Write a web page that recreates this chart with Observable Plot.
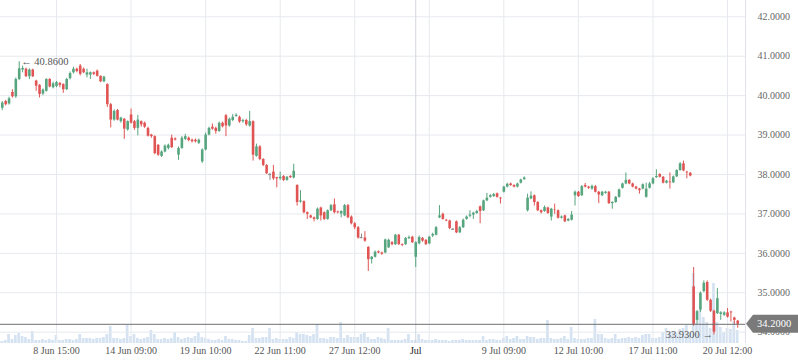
<!DOCTYPE html>
<html><head><meta charset="utf-8">
<script src="https://cdn.jsdelivr.net/npm/d3@7"></script>
<script src="https://cdn.jsdelivr.net/npm/@observablehq/plot@0.6"></script>
<style>
html,body{margin:0;padding:0;background:#fff;}
#wrap{position:relative;width:798px;height:363px;overflow:hidden;background:#fff;}
#wrap svg{position:absolute;left:0;top:0;}
</style></head><body><div id="wrap"></div>
<script>
const open = [
39.68,39.85,39.79,40.08,39.97,40.41,40.65,40.67,40.48,40.65,
40.37,40.26,40.04,40.11,40.41,40.20,40.23,40.31,40.28,40.15,
40.43,40.58,40.67,40.75,40.67,40.52,40.52,40.58,40.62,40.49,
40.35,40.28,39.77,39.38,39.62,39.34,39.40,39.13,39.51,39.34,
39.17,39.34,39.30,39.17,39.00,38.96,38.74,38.46,38.57,38.66,
38.92,38.90,38.49,38.66,38.89,38.92,38.87,38.87,38.79,38.32,
38.62,39.00,39.20,39.17,39.09,39.30,39.49,39.23,39.37,39.47,
39.45,39.34,39.37,39.23,39.34,38.46,38.70,38.38,38.23,38.00,
38.06,37.92,37.89,37.95,37.85,37.95,37.91,37.72,37.30,37.31,
37.03,36.95,36.90,36.86,37.15,37.03,36.86,37.08,37.23,37.05,
37.00,36.95,37.21,36.92,36.75,36.65,36.40,36.39,36.15,35.84,
35.90,36.04,36.01,36.01,36.14,36.27,36.22,36.46,36.22,36.22,
36.37,36.41,35.90,36.24,36.38,36.33,36.24,36.44,36.46,36.90,
36.99,36.84,36.82,36.61,36.80,36.52,36.65,36.86,36.94,36.97,
37.01,37.18,37.08,37.33,37.42,37.44,37.51,37.40,37.55,37.68,
37.76,37.72,37.68,37.78,37.87,37.08,37.38,37.46,37.29,37.08,
37.06,37.15,36.92,37.10,37.08,36.89,36.95,36.82,36.84,37.46,
37.55,37.46,37.72,37.68,37.63,37.69,37.55,37.46,37.52,37.55,
37.26,37.29,37.42,37.65,37.76,37.85,37.76,37.68,37.63,37.63,
37.42,37.65,37.76,37.92,38.00,37.93,37.78,37.81,37.79,37.94,
38.10,38.27,38.06,38.03,35.15,34.30,34.56,35.03,35.26,34.81,
34.53,34.47,34.45,34.43,34.49,34.51,34.36,34.28];
const high = [
39.85,39.88,39.96,40.15,40.45,40.86,40.75,40.70,40.68,40.67,
40.39,40.28,40.17,40.43,40.43,40.34,40.36,40.33,40.30,40.44,
40.60,40.72,40.70,40.79,40.70,40.67,40.60,40.60,40.65,40.50,
40.49,40.30,39.80,39.64,39.65,39.45,39.42,39.36,39.66,39.37,
39.50,39.36,39.33,39.20,39.02,38.98,38.76,38.60,38.75,38.77,
39.00,38.93,38.70,38.96,39.02,38.95,38.90,38.90,38.90,38.65,
39.05,39.20,39.28,39.20,39.33,39.33,39.52,39.43,39.52,39.54,
39.48,39.40,39.40,39.60,39.36,38.77,38.73,38.40,38.25,38.03,
38.23,37.93,38.06,37.97,37.95,37.97,38.26,37.74,37.59,37.33,
37.05,36.97,36.92,37.15,37.17,37.05,37.10,37.24,37.38,37.07,
37.08,37.24,37.24,36.95,36.78,36.68,36.49,36.55,36.17,35.92,
36.06,36.06,36.03,36.36,36.36,36.30,36.48,36.48,36.24,36.40,
36.44,36.43,36.29,36.44,36.40,36.35,36.43,36.51,36.68,37.21,
37.02,36.86,36.84,36.63,36.82,36.68,36.87,36.95,37.08,37.04,
37.09,37.20,37.35,37.52,37.49,37.52,37.53,37.42,37.70,37.78,
37.78,37.74,37.78,37.88,37.94,37.50,37.56,37.48,37.31,37.10,
37.20,37.17,37.14,37.25,37.10,36.95,36.97,36.88,37.06,37.58,
37.57,37.72,37.77,37.70,37.73,37.72,37.57,37.57,37.57,37.57,
37.31,37.44,37.63,37.78,38.04,37.87,37.78,37.70,37.65,37.76,
37.78,37.80,37.92,38.12,38.02,37.95,37.85,38.04,37.96,38.12,
38.30,38.34,38.08,38.05,35.64,34.55,35.02,35.30,35.30,34.84,
34.56,35.11,34.52,34.52,34.60,34.53,34.38,34.30];
const low = [
39.62,39.74,39.76,39.94,39.93,40.38,40.58,40.46,40.41,40.46,
40.11,39.94,40.00,40.09,40.20,40.17,40.20,40.20,40.06,40.13,
40.40,40.55,40.58,40.50,40.56,40.45,40.41,40.51,40.47,40.33,
40.33,39.70,39.18,39.35,39.36,39.30,38.89,39.10,39.28,39.12,
38.98,39.20,39.17,38.95,38.92,38.50,38.46,38.43,38.55,38.62,
38.66,38.85,38.36,38.64,38.86,38.83,38.80,38.80,38.76,38.28,
38.60,38.98,39.12,39.02,39.07,39.18,38.96,39.20,39.34,39.45,
39.30,39.30,39.22,39.20,38.34,38.44,38.35,38.20,38.00,37.85,
37.85,37.66,37.85,37.82,37.83,37.90,37.89,37.20,37.27,37.00,
36.86,36.88,36.80,36.84,36.82,36.83,36.84,37.06,37.00,37.00,
36.90,36.93,36.88,36.72,36.60,36.36,36.37,36.28,35.54,35.73,
35.88,35.99,35.95,35.99,36.12,36.19,36.20,36.20,36.17,36.20,
36.35,36.25,35.64,36.22,36.28,36.20,36.22,36.40,36.44,36.88,
36.84,36.80,36.60,36.59,36.50,36.50,36.63,36.84,36.90,36.86,
36.99,36.75,37.06,37.31,37.40,37.42,37.40,37.25,37.53,37.66,
37.70,37.66,37.66,37.76,37.85,37.05,37.36,37.20,37.06,37.00,
37.04,36.99,36.82,36.99,36.87,36.87,36.78,36.80,36.82,37.20,
37.42,37.44,37.66,37.62,37.60,37.53,37.26,37.44,37.50,37.24,
37.12,37.27,37.40,37.63,37.74,37.74,37.66,37.61,37.50,37.61,
37.40,37.63,37.74,37.90,37.91,37.76,37.76,37.63,37.77,37.92,
38.08,38.07,37.89,37.94,34.15,34.20,34.50,35.00,34.78,34.50,
33.93,34.45,34.30,34.40,34.36,34.26,34.19,34.10];
const close = [
39.81,39.77,39.92,39.97,40.41,40.68,40.69,40.48,40.65,40.48,
40.24,40.03,40.14,40.41,40.22,40.30,40.33,40.26,40.15,40.41,
40.56,40.67,40.61,40.54,40.58,40.58,40.58,40.54,40.49,40.35,
40.47,39.77,39.38,39.60,39.38,39.43,39.15,39.34,39.30,39.17,
39.38,39.26,39.20,38.97,38.96,38.53,38.49,38.57,38.72,38.74,
38.68,38.87,38.66,38.92,38.96,38.86,38.83,38.83,38.87,38.62,
39.00,39.17,39.15,39.09,39.30,39.21,39.23,39.40,39.45,39.50,
39.33,39.37,39.26,39.34,38.49,38.70,38.38,38.23,38.02,38.00,
37.89,37.89,37.93,37.85,37.93,37.92,38.08,37.29,37.33,37.03,
36.99,36.90,36.86,37.12,36.95,36.86,37.08,37.21,37.03,37.03,
37.06,37.21,36.90,36.75,36.65,36.39,36.40,36.31,35.84,35.90,
36.03,36.01,35.98,36.34,36.33,36.22,36.46,36.22,36.20,36.38,
36.40,36.27,36.27,36.40,36.31,36.22,36.41,36.48,36.65,36.95,
36.86,36.82,36.63,36.61,36.52,36.65,36.84,36.92,36.97,37.02,
37.06,37.06,37.33,37.40,37.46,37.49,37.42,37.38,37.68,37.75,
37.72,37.68,37.76,37.86,37.91,37.40,37.45,37.29,37.08,37.03,
37.16,37.01,37.12,37.09,36.89,36.92,36.80,36.86,36.97,37.55,
37.44,37.69,37.68,37.65,37.70,37.55,37.48,37.55,37.55,37.26,
37.29,37.42,37.61,37.76,37.85,37.76,37.68,37.63,37.59,37.74,
37.63,37.76,37.89,37.95,37.93,37.78,37.83,37.79,37.94,38.10,
38.27,38.09,38.04,37.96,34.20,34.52,34.99,35.24,34.81,34.53,
34.00,34.85,34.49,34.49,34.38,34.49,34.30,34.20];
const volume = [
2,3,9,4,8,10,7,6,4,12,
3,3,4,3,4,3,8,3,3,4,
4,3,4,9,5,5,5,4,5,5,
6,9,17,5,5,4,5,18,7,9,
5,4,5,6,13,9,4,4,5,4,
5,11,6,4,5,6,5,7,11,6,
5,4,3,3,4,3,7,4,4,3,
3,2,2,8,15,5,5,6,6,15,
4,5,4,4,4,6,5,11,9,9,
8,7,9,19,5,5,4,6,6,5,
21,5,8,6,6,6,9,11,6,4,
4,6,5,4,15,3,3,3,3,4,
9,3,3,9,4,3,3,3,4,3,
3,3,2,3,3,3,4,3,3,3,
3,3,7,3,4,4,3,3,5,7,
4,5,7,4,4,7,6,6,4,5,
5,23,5,4,4,5,7,4,16,5,
4,4,4,5,5,24,9,9,5,4,
5,9,4,5,5,6,5,6,5,8,
9,9,5,5,6,11,15,11,12,10,
14,15,18,10,70,20,33,26,21,15,
60,21,16,11,15,14,22,13];

// x axis: candle index positions of grid lines and labels
const gridIdx = [16, 38, 60, 82, 104, 126, 148, 170, 192, 214];
const xTickIdx = [16, 38, 60, 82, 104, 122, 148, 170, 192, 214];
const xTickLabels = ["8 Jun 15:00", "14 Jun 09:00", "19 Jun 10:00", "22 Jun 11:00", "27 Jun 12:00", "Jul", "9 Jul 09:00", "12 Jul 10:00", "17 Jul 11:00", "20 Jul 12:00"];
const monthIdx = [122];
const yTicks = [34, 35, 36, 37, 38, 39, 40, 41, 42];

const candles = open.map((o, i) => ({i, open: o, high: high[i], low: low[i], close: close[i], volume: volume[i]}));
const xTicks = xTickIdx.map((i, k) => ({i, label: xTickLabels[k], month: monthIdx.includes(i)}));
const last = candles[candles.length - 1];
const maxC = candles.reduce((a, b) => b.high > a.high ? b : a);
const minC = candles.reduce((a, b) => b.low < a.low ? b : a);

const W = 798, H = 363, mR = 53, mB = 20;
const xDomain = [-0.522, 219.3];
const yDomain = [33.713, 42.413];
const UP = "#56a57e", DOWN = "#e05454", FLAT = "#8a8a8a";
const col = d => d.close > d.open ? UP : d.close < d.open ? DOWN : FLAT;
const font = "'Liberation Serif', 'Times New Roman', serif";

const volPlot = Plot.plot({
  width: W, height: H, marginLeft: 0, marginRight: mR, marginTop: 0, marginBottom: mB,
  x: {domain: xDomain, axis: null},
  y: {domain: [0, 343], axis: null},
  style: {background: "#fff"},
  marks: [
    Plot.rect(candles, {x1: d => d.i - 0.4, x2: d => d.i + 0.4, y1: d => 0, y2: "volume", fill: "#d4e2f1"})
  ]
});

const bodies = candles.filter(d => d.open !== d.close);
const dojis = candles.filter(d => d.open === d.close);

const main = Plot.plot({
  width: W, height: H, marginLeft: 0, marginRight: mR, marginTop: 0, marginBottom: mB,
  x: {domain: xDomain, axis: null},
  y: {domain: yDomain, axis: null},
  color: {type: "identity"},
  style: {background: "transparent", fontFamily: font},
  marks: [
    Plot.ruleY(yTicks, {stroke: "#e6e9ee"}),
    Plot.ruleX(gridIdx, {stroke: "#e6e9ee"}),
    Plot.ruleX(monthIdx, {stroke: "#d2d6dc"}),
    Plot.ruleX([xDomain[1]], {stroke: "#dfe3e8"}),
    Plot.ruleX(candles, {x: "i", y1: "low", y2: "high", stroke: col, strokeWidth: 1}),
    Plot.ruleX(bodies, {x: "i", y1: "open", y2: "close", stroke: col, strokeWidth: 2.6}),
    Plot.ruleY(dojis, {y: "close", x1: d => d.i - 0.4, x2: d => d.i + 0.4, stroke: FLAT, strokeWidth: 1.2}),
    Plot.ruleY([last.close], {stroke: "#6e6e6e", strokeWidth: 1}),
    Plot.text(yTicks, {y: d => d, text: d => d.toFixed(4), frameAnchor: "right", dx: 12, textAnchor: "start", fill: "#666", fontSize: 10, fontFamily: font}),
    Plot.text(xTicks, {x: "i", text: "label", frameAnchor: "bottom", dy: 10, fill: d => d.month ? "#222" : "#555", fontSize: 10, fontFamily: font}),
    Plot.text([maxC], {x: "i", y: "high", text: d => "\u2190 " + d.high.toFixed(4), textAnchor: "start", dx: 2, fill: "#555", fontSize: 10.5, fontFamily: font}),
    Plot.text([minC], {x: "i", y: "low", text: d => d.low.toFixed(4) + " \u2192", textAnchor: "end", dx: -1, fill: "#555", fontSize: 10.5, fontFamily: font})
  ]
});

const wrap = document.getElementById("wrap");
wrap.appendChild(volPlot);
wrap.appendChild(main);

// current price marker on the right axis
const py = main.scale("y").apply(last.close);
const xr = main.scale("x").range[1];
const g = d3.select(main).append("g");
g.append("path")
  .attr("d", `M${xr + 1},${py} L${xr + 8},${py - 9} L${W},${py - 9} L${W},${py + 9} L${xr + 8},${py + 9} Z`)
  .attr("fill", "#7a7a7a");
g.append("text")
  .attr("x", xr + 12).attr("y", py).attr("dy", "0.35em")
  .attr("text-anchor", "start")
  .attr("fill", "#fff").attr("font-size", 10.5).attr("font-family", font)
  .text(last.close.toFixed(4));
</script>
</body></html>
